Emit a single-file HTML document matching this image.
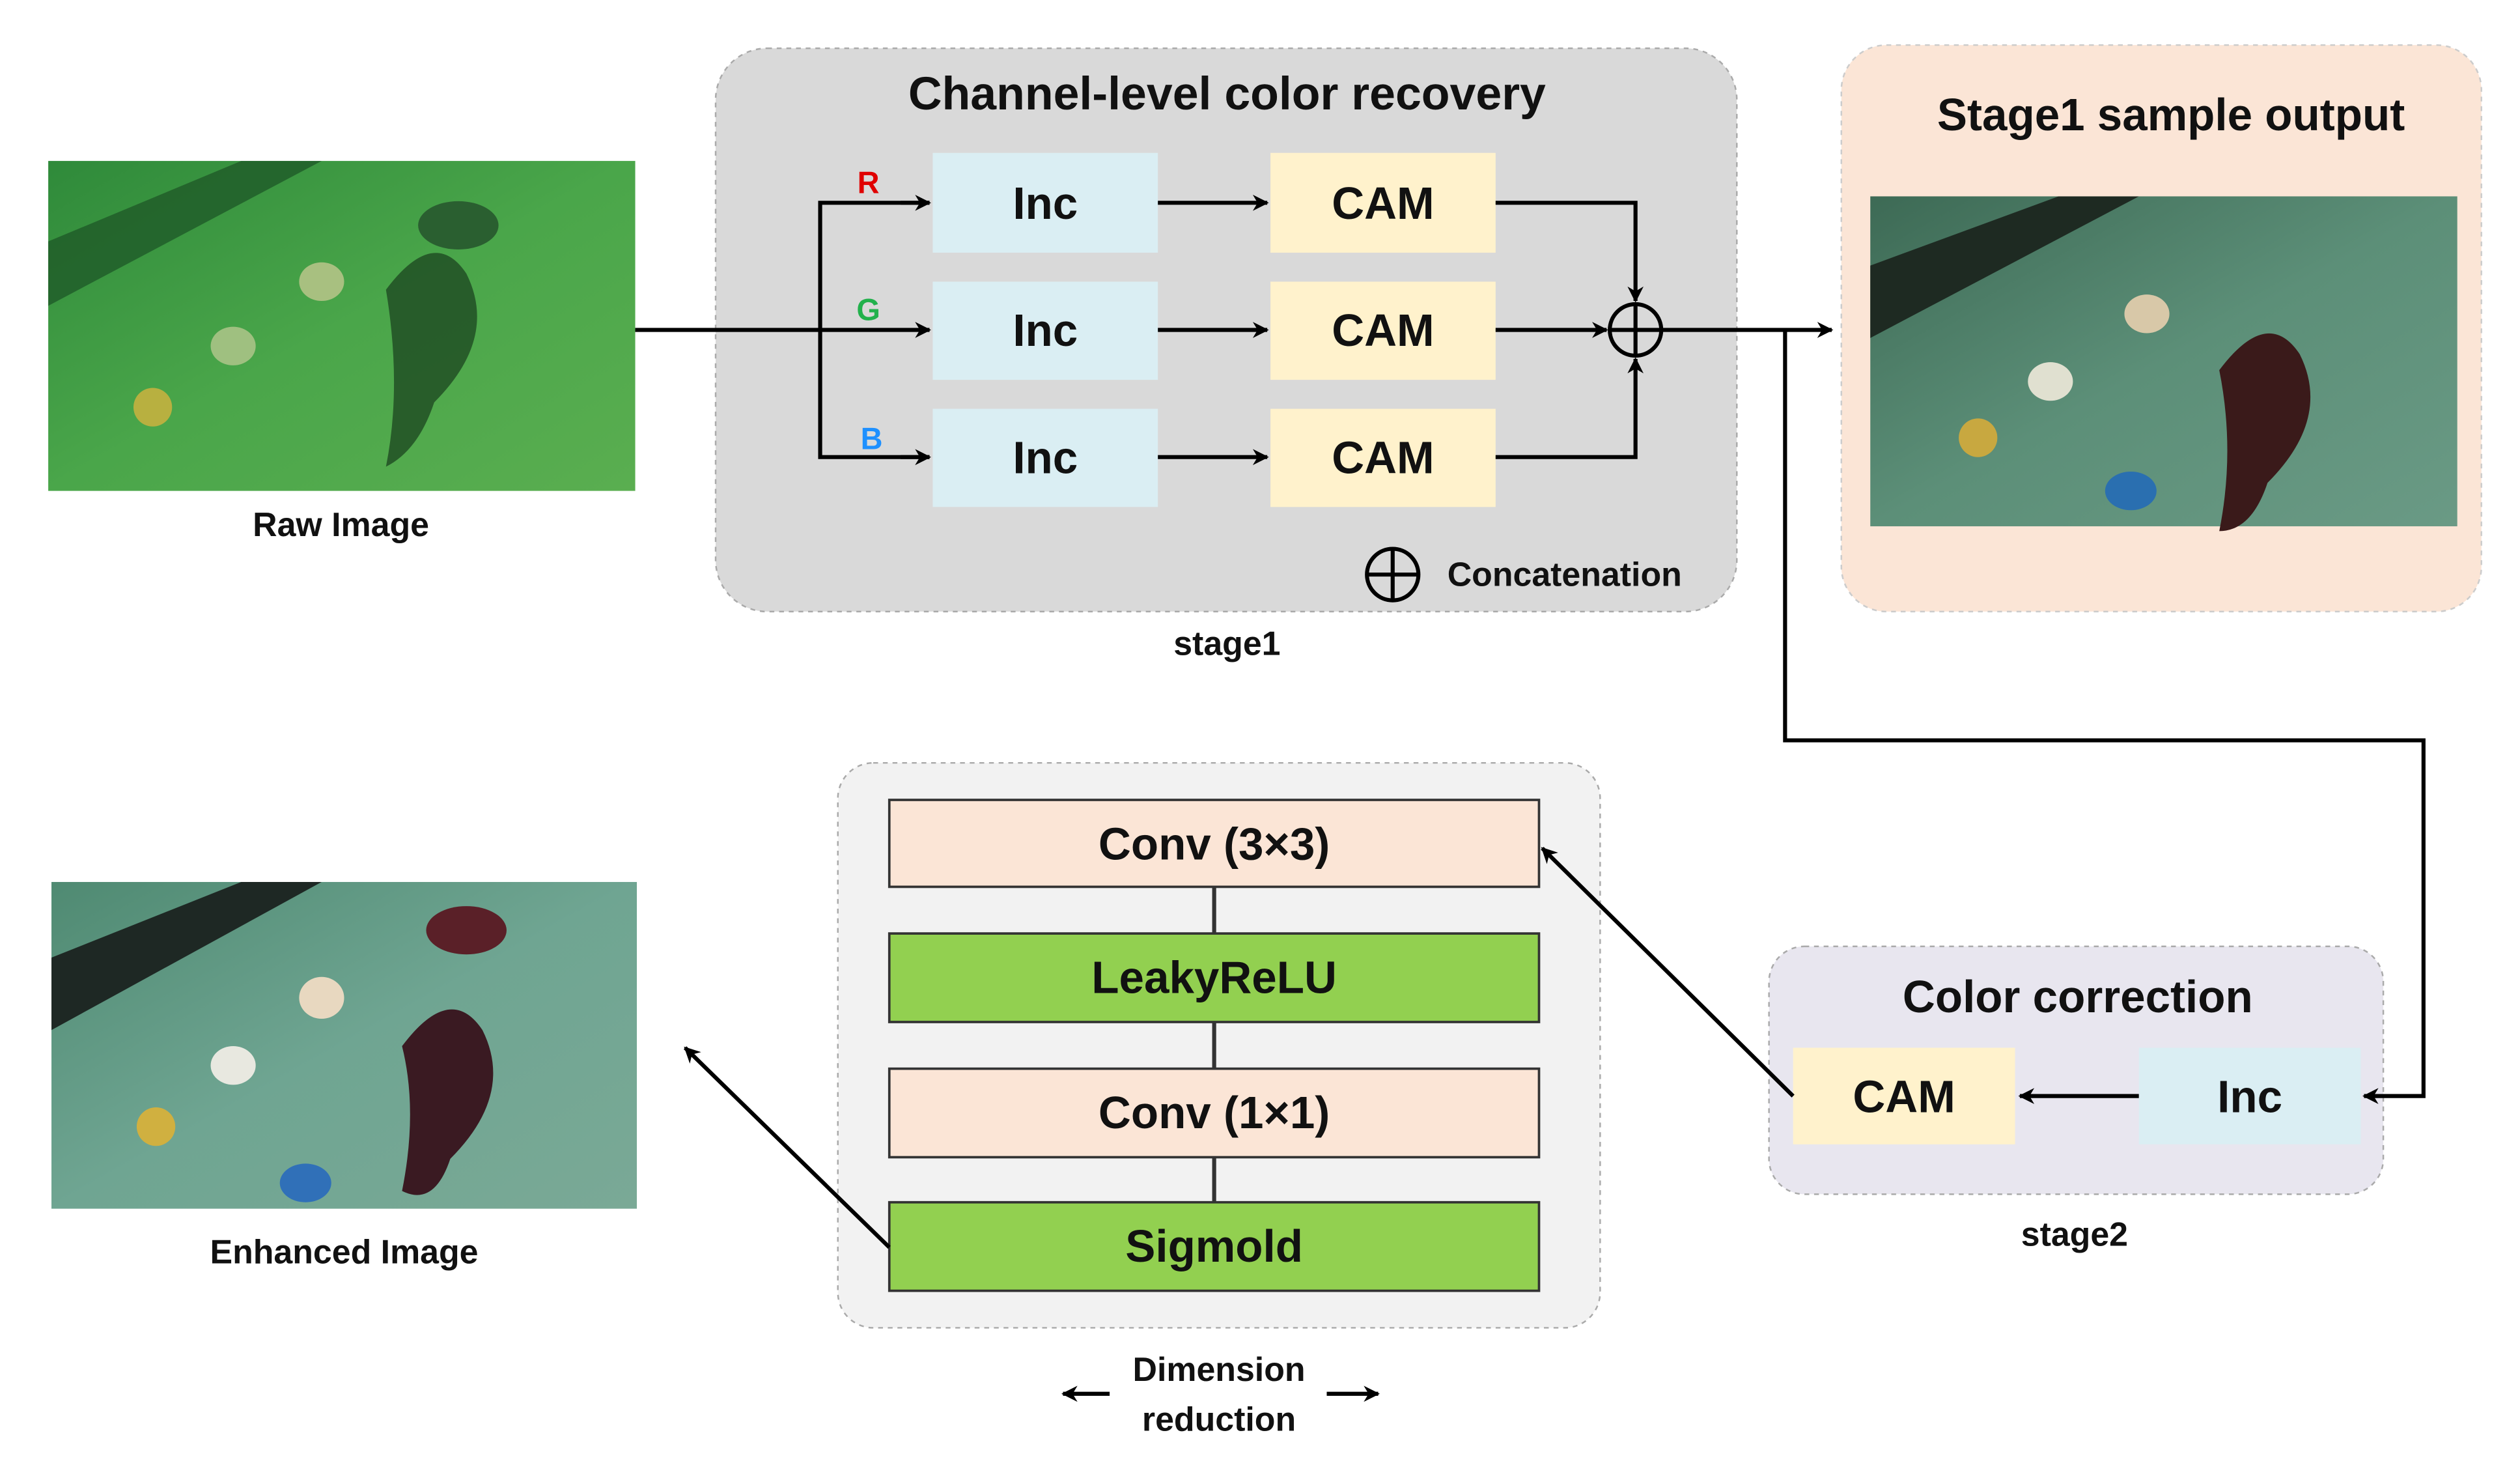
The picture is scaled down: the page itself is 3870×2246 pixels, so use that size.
<!DOCTYPE html>
<html><head><meta charset="utf-8"><style>
html,body{margin:0;padding:0;background:#fff;width:3870px;height:2246px;overflow:hidden}
svg{display:block}
text{font-family:"Liberation Sans",sans-serif;font-weight:bold;fill:#111}
</style></head><body>
<svg width="3870" height="2246" viewBox="0 0 1567 909" preserveAspectRatio="none" xmlns="http://www.w3.org/2000/svg">
<defs>
<marker id="ah" markerWidth="10" markerHeight="10" refX="9" refY="5" orient="auto" markerUnits="userSpaceOnUse"><path d="M0,0 L10,5 L0,10 L3,5 z" fill="#000"/></marker>
<linearGradient id="g1" x1="0" y1="0" x2="1" y2="1"><stop offset="0" stop-color="#2f8a3a"/><stop offset="0.5" stop-color="#4aa64a"/><stop offset="1" stop-color="#5aae50"/></linearGradient>
<linearGradient id="g2" x1="0" y1="0" x2="1" y2="1"><stop offset="0" stop-color="#3d6a55"/><stop offset="0.5" stop-color="#5c8f78"/><stop offset="1" stop-color="#6a9a85"/></linearGradient>
<linearGradient id="g3" x1="0" y1="0" x2="1" y2="1"><stop offset="0" stop-color="#4f8a72"/><stop offset="0.5" stop-color="#6fa592"/><stop offset="1" stop-color="#7aa996"/></linearGradient>
</defs>

<!-- Raw image -->
<rect x="30" y="100" width="365" height="205" fill="url(#g1)"/>
<path d="M30,150 L150,100 L200,100 L30,190 z" fill="#1f5a28" opacity="0.8"/>
<path d="M240,180 q30,-40 50,-10 q20,40 -20,80 q-10,30 -30,40 q10,-50 0,-110z" fill="#1e4a22" opacity="0.8"/>
<ellipse cx="200" cy="175" rx="14" ry="12" fill="#a8c080"/><ellipse cx="145" cy="215" rx="14" ry="12" fill="#9fc080"/>
<ellipse cx="95" cy="253" rx="12" ry="12" fill="#b8b040"/><ellipse cx="285" cy="140" rx="25" ry="15" fill="#2a5f30"/>
<text x="212" y="333" font-size="21" text-anchor="middle">Raw Image</text>

<!-- Stage1 box -->
<rect x="445" y="30" width="635" height="350" rx="32" fill="#d9d9d9" stroke="#aaa" stroke-dasharray="3,3"/>
<text x="763" y="68" font-size="29" text-anchor="middle">Channel-level color recovery</text>
<g font-size="28" text-anchor="middle">
<rect x="580" y="95" width="140" height="62" fill="#daeef3"/><text x="650" y="136">Inc</text>
<rect x="580" y="175" width="140" height="61" fill="#daeef3"/><text x="650" y="215">Inc</text>
<rect x="580" y="254" width="140" height="61" fill="#daeef3"/><text x="650" y="294">Inc</text>
<rect x="790" y="95" width="140" height="62" fill="#fff2cc"/><text x="860" y="136">CAM</text>
<rect x="790" y="175" width="140" height="61" fill="#fff2cc"/><text x="860" y="215">CAM</text>
<rect x="790" y="254" width="140" height="61" fill="#fff2cc"/><text x="860" y="294">CAM</text>
</g>
<text x="540" y="120" font-size="19" text-anchor="middle" style="fill:#e00000">R</text>
<text x="540" y="199" font-size="19" text-anchor="middle" style="fill:#22b14c">G</text>
<text x="542" y="279" font-size="19" text-anchor="middle" style="fill:#1e90ff">B</text>
<g stroke="#000" stroke-width="2.5" fill="none">
<line x1="395" y1="205" x2="578" y2="205" marker-end="url(#ah)"/>
<polyline points="578,126 510,126 510,284 578,284"/>
<line x1="560" y1="126" x2="578" y2="126" marker-end="url(#ah)"/>
<line x1="560" y1="284" x2="578" y2="284" marker-end="url(#ah)"/>
<line x1="720" y1="126" x2="788" y2="126" marker-end="url(#ah)"/>
<line x1="720" y1="205" x2="788" y2="205" marker-end="url(#ah)"/>
<line x1="720" y1="284" x2="788" y2="284" marker-end="url(#ah)"/>
<polyline points="930,126 1017,126 1017,187" marker-end="url(#ah)"/>
<line x1="930" y1="205" x2="999" y2="205" marker-end="url(#ah)"/>
<polyline points="930,284 1017,284 1017,223" marker-end="url(#ah)"/>
<circle cx="1017" cy="205" r="16"/><line x1="1001" y1="205" x2="1033" y2="205"/><line x1="1017" y1="189" x2="1017" y2="221"/>
<line x1="1033" y1="205" x2="1139" y2="205" marker-end="url(#ah)"/>
<circle cx="866" cy="357" r="16"/><line x1="850" y1="357" x2="882" y2="357"/><line x1="866" y1="341" x2="866" y2="373"/>
</g>
<text x="900" y="364" font-size="21">Concatenation</text>
<text x="763" y="407" font-size="21" text-anchor="middle">stage1</text>

<!-- Stage1 sample output -->
<rect x="1145" y="28" width="398" height="352" rx="28" fill="#fbe5d6" stroke="#ccc" stroke-dasharray="3,3"/>
<text x="1350" y="81" font-size="28" text-anchor="middle">Stage1 sample output</text>
<rect x="1163" y="122" width="365" height="205" fill="url(#g2)"/>
<path d="M1163,165 L1280,122 L1330,122 L1163,210 z" fill="#1e2a22"/>
<path d="M1380,230 q30,-40 50,-10 q20,40 -20,80 q-10,30 -30,30 q10,-50 0,-100z" fill="#3a1a1a"/>
<ellipse cx="1335" cy="195" rx="14" ry="12" fill="#d8c8a8"/><ellipse cx="1275" cy="237" rx="14" ry="12" fill="#e0e0d0"/>
<ellipse cx="1230" cy="272" rx="12" ry="12" fill="#c8a840"/><ellipse cx="1325" cy="305" rx="16" ry="12" fill="#2a6fb0"/>

<!-- Color correction -->
<rect x="1100" y="588" width="382" height="154" rx="22" fill="#e8e6ef" stroke="#aaa" stroke-dasharray="3,3"/>
<text x="1292" y="629" font-size="28" text-anchor="middle">Color correction</text>
<rect x="1115" y="651" width="138" height="60" fill="#fff2cc"/><text x="1184" y="691" font-size="28" text-anchor="middle">CAM</text>
<rect x="1330" y="651" width="138" height="60" fill="#daeef3"/><text x="1399" y="691" font-size="28" text-anchor="middle">Inc</text>
<text x="1290" y="774" font-size="21" text-anchor="middle">stage2</text>

<!-- Dimension reduction box -->
<rect x="521" y="474" width="474" height="351" rx="22" fill="#f2f2f2" stroke="#aaa" stroke-dasharray="3,3"/>
<g stroke="#333" stroke-width="1.5">
<line x1="755" y1="551" x2="755" y2="747" stroke-width="2.5"/>
<rect x="553" y="497" width="404" height="54" fill="#fbe5d6"/>
<rect x="553" y="580" width="404" height="55" fill="#92d050"/>
<rect x="553" y="664" width="404" height="55" fill="#fbe5d6"/>
<rect x="553" y="747" width="404" height="55" fill="#92d050"/>
</g>
<g font-size="28" text-anchor="middle">
<text x="755" y="534">Conv (3×3)</text>
<text x="755" y="617">LeakyReLU</text>
<text x="755" y="701">Conv (1×1)</text>
<text x="755" y="784">Sigmold</text>
</g>
<g stroke="#000" stroke-width="2.5" fill="none">
<polyline points="1110,205 1110,460 1507,460 1507,681 1470,681" marker-end="url(#ah)"/>
<line x1="1330" y1="681" x2="1256" y2="681" marker-end="url(#ah)"/>
<line x1="1115" y1="681" x2="959" y2="527" marker-end="url(#ah)"/>
<line x1="553" y1="775" x2="426" y2="651" marker-end="url(#ah)"/>
<line x1="690" y1="866" x2="661" y2="866" marker-end="url(#ah)"/>
<line x1="825" y1="866" x2="857" y2="866" marker-end="url(#ah)"/>
</g>
<text x="758" y="858" font-size="21" text-anchor="middle">Dimension</text>
<text x="758" y="889" font-size="21" text-anchor="middle">reduction</text>

<!-- Enhanced image -->
<rect x="32" y="548" width="364" height="203" fill="url(#g3)"/>
<path d="M32,595 L150,548 L200,548 L32,640 z" fill="#1e2824"/>
<path d="M250,650 q30,-40 50,-10 q20,40 -20,80 q-10,30 -30,20 q10,-50 0,-90z" fill="#3a1a22"/>
<ellipse cx="200" cy="620" rx="14" ry="13" fill="#e8d8c0"/><ellipse cx="145" cy="662" rx="14" ry="12" fill="#e8e8e0"/>
<ellipse cx="97" cy="700" rx="12" ry="12" fill="#d0b040"/><ellipse cx="190" cy="735" rx="16" ry="12" fill="#3070b8"/>
<ellipse cx="290" cy="578" rx="25" ry="15" fill="#5a2028"/>
<text x="214" y="785" font-size="21" text-anchor="middle">Enhanced Image</text>
</svg>
</body></html>
